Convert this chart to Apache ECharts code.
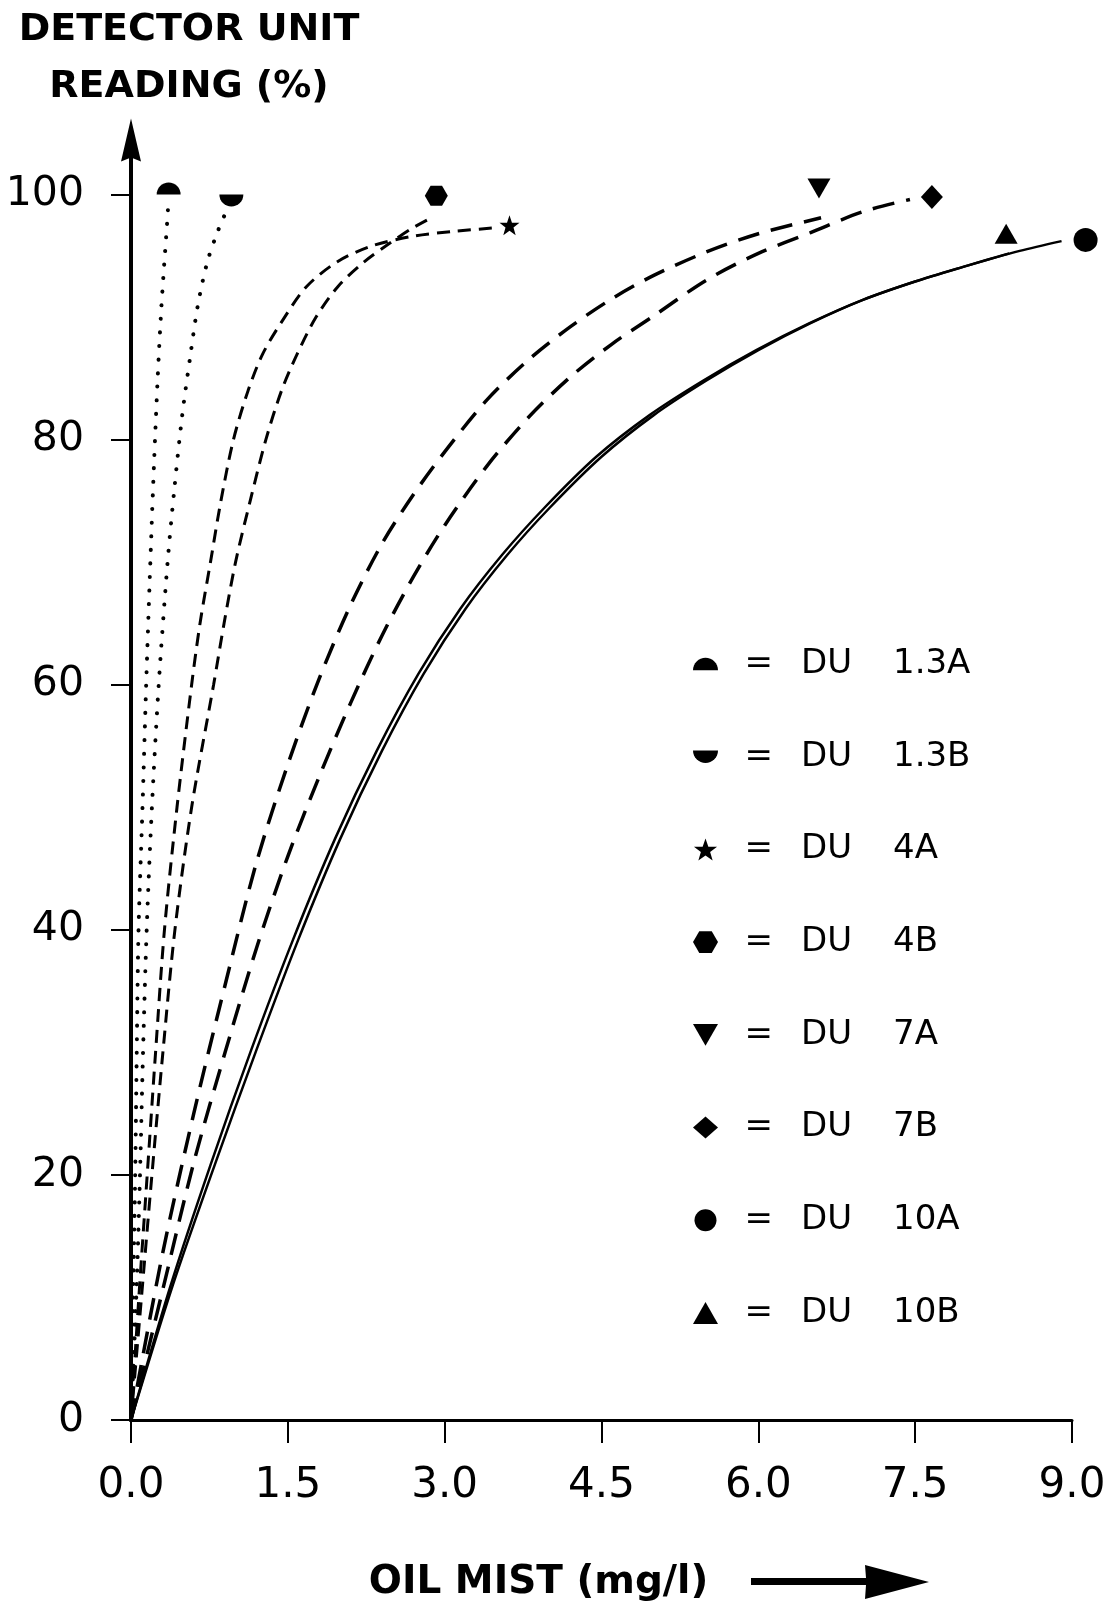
<!DOCTYPE html>
<html>
<head>
<meta charset="utf-8">
<script src="https://cdn.jsdelivr.net/npm/echarts@6/dist/echarts.min.js"></script>
<style>
html,body{margin:0;padding:0;background:#ffffff;}
#chart{width:1111px;height:1607px;}
</style>
</head>
<body>
<div id="chart"></div>
<script>
// ---------------- DATA ----------------
const seriesNames = ['DU 1.3A', 'DU 1.3B', 'DU 4A', 'DU 4B', 'DU 7A', 'DU 7B', 'DU 10A', 'DU 10B'];
const xTicks = [0, 1.5, 3, 4.5, 6, 7.5, 9];
const yTicks = [0, 20, 40, 60, 80, 100];

// curves [oil mist mg/l, reading %]
const curve13A = [[0,0],[0.02,10],[0.04,20],[0.055,30],[0.072,40],[0.11,50],[0.145,60],[0.185,70],[0.22,78],[0.255,85],[0.285,90],[0.315,94],[0.34,97],[0.355,99]];
const curve13B = [[0,0],[0.05,10],[0.086,20],[0.115,30],[0.15,40],[0.20,50],[0.265,60],[0.35,70],[0.415,76],[0.49,82],[0.57,87],[0.64,91],[0.73,94.5],[0.83,97],[0.93,99]];
const curve4A = [[0,0],[0.075,10],[0.155,20],[0.235,30],[0.32,40],[0.44,50],[0.58,60],[0.66,65],[0.76,70],[0.86,75],[0.98,80],[1.12,84],[1.26,87],[1.47,90],[1.68,92.5],[1.97,94.5],[2.3,95.8],[2.7,96.6],[3.1,97.0],[3.5,97.3]];
const curve4B = [[0,0],[0.10,10],[0.20,20],[0.305,30],[0.42,40],[0.58,50],[0.79,60],[0.89,65],[1.0,70],[1.14,75],[1.29,80],[1.44,84],[1.59,87],[1.77,90],[1.98,92.5],[2.23,94.5],[2.47,96],[2.68,97.2],[2.85,98]];
const curve7A = [[0,0],[0.3,13.5],[0.6,25],[0.9,35.5],[1.2,45.5],[1.5,53.5],[1.8,60.5],[2.1,66.5],[2.4,71.5],[2.7,75.5],[3.0,79],[3.4,83.2],[3.8,86.5],[4.2,89.2],[4.6,91.5],[5.0,93.4],[5.5,95.3],[6.0,96.8],[6.6,98.1]];
const curve7B = [[0,0],[0.3,10.5],[0.6,21],[0.9,30],[1.2,38.5],[1.5,46],[1.8,52.5],[2.1,58.5],[2.4,64],[2.7,68.8],[3.0,73],[3.4,77.8],[3.8,81.8],[4.2,85.1],[4.6,87.8],[5.0,90.1],[5.5,93.0],[6.0,95.2],[6.5,96.9],[7.0,98.6],[7.45,99.6]];
const curve10A = [[0,0],[0.4,11],[0.8,20.8],[1.2,30.2],[1.6,39.2],[2.0,47.4],[2.4,54.6],[2.8,60.9],[3.2,66.2],[3.6,70.6],[4.0,74.4],[4.5,78.6],[5.0,82.0],[5.5,84.8],[6.0,87.3],[6.5,89.5],[7.0,91.4],[7.5,92.9],[8.0,94.2],[8.5,95.4],[8.9,96.2]];
const curve10B = [[0,0],[0.38,11],[0.76,20.8],[1.15,30.2],[1.55,39.2],[1.95,47.4],[2.35,54.6],[2.75,60.9],[3.15,66.2],[3.55,70.6],[3.95,74.4],[4.45,78.6],[4.96,82.0],[5.47,84.8],[5.98,87.3],[6.49,89.5],[7.0,91.4],[7.5,92.9],[8.0,94.2],[8.4,95.2]];

// end markers
const marker13A = [0.36, 100];
const marker13B = [0.96, 100];
const marker4A = [3.62, 97.5];
const marker4B = [2.92, 99.9];
const marker7A = [6.58, 100.5];
const marker7B = [7.66, 99.8];
const marker10A = [9.13, 96.3];
const marker10B = [8.37, 96.8];

// ---------------- SYMBOL SHAPES ----------------
function halfDiscPath(up) {
  const pts = [];
  const n = 16;
  for (let i = 0; i <= n; i++) {
    const a = Math.PI * i / n;
    const x = 10 - 10 * Math.cos(a);
    const y = up ? 10 - 10 * Math.sin(a) : 10 * Math.sin(a);
    pts.push(x.toFixed(3) + ',' + y.toFixed(3));
  }
  return 'path://M' + pts.join(' L') + ' Z';
}
function starPath() {
  const pts = [];
  for (let i = 0; i < 10; i++) {
    const r = i % 2 === 0 ? 10 : 4;
    const a = -Math.PI / 2 + i * Math.PI / 5;
    pts.push((10 + r * Math.cos(a)).toFixed(3) + ',' + (10 + r * Math.sin(a)).toFixed(3));
  }
  return 'path://M' + pts.join(' L') + ' Z';
}
const SYM_HALF_UP = halfDiscPath(true);
const SYM_HALF_DOWN = halfDiscPath(false);
const SYM_STAR = starPath();
const SYM_HEX = 'path://M0,8.66 L5,0 L15,0 L20,8.66 L15,17.32 L5,17.32 Z';
const SYM_TRI_DOWN = 'path://M0,0 L20,0 L10,17.32 Z';
const ARROW_HEAD = 'path://M10,0 L20,43 L10,39 L0,43 Z';

const curves = [curve13A, curve13B, curve4A, curve4B, curve7A, curve7B, curve10A, curve10B];
const markers = [marker13A, marker13B, marker4A, marker4B, marker7A, marker7B, marker10A, marker10B];
const symbols = [SYM_HALF_UP, SYM_HALF_DOWN, SYM_STAR, SYM_HEX, SYM_TRI_DOWN, 'diamond', 'circle', 'triangle'];
const symbolSizes = [[24,12],[24,12],20,[23,20],[23,20],[22,24],24,[23,20]];
const symbolOffsets = [[0,-6],[0,6],[0,0],[0,0],[0,0],[0,0],[0,0],[0,0]];
const lineTypes = [[0.1,13.5],[0.1,13.5],[13,8],[13,8],[22,12],[22,12],'solid','solid'];
const lineWidths = [4,4,3,3,3.5,3.5,2.5,2.5];

const series = [];
curves.forEach((c, i) => {
  series.push({
    type: 'line', name: seriesNames[i] + ' curve', data: c,
    smooth: 0.3, showSymbol: false, symbol: 'none', clip: false, silent: true,
    lineStyle: {color: '#000', width: lineWidths[i], type: lineTypes[i], cap: i < 2 ? 'round' : 'butt', opacity: 1},
    z: 2
  });
});
markers.forEach((m, i) => {
  series.push({
    type: 'scatter', name: seriesNames[i], data: [m],
    symbol: symbols[i], symbolSize: symbolSizes[i], symbolOffset: symbolOffsets[i],
    itemStyle: {color: '#000', opacity: 1}, clip: false, z: 5
  });
});

const chart = echarts.init(document.getElementById('chart'), null, {renderer: 'canvas'});
chart.setOption({
  backgroundColor: '#ffffff',
  animation: false,
  title: {
    text: 'DETECTOR UNIT\nREADING (%)',
    left: 189, top: 2, padding: 0, textAlign: 'center',
    textStyle: {fontFamily: 'DejaVu Sans', fontWeight: 'bold', fontSize: 38, lineHeight: 57, color: '#000'}
  },
  grid: {left: 131, right: 39, top: 140, bottom: 184.4, containLabel: false},
  xAxis: {
    type: 'value', min: 0, max: 9, interval: 1.5,
    axisLine: {show: true, lineStyle: {color: '#000', width: 3}},
    axisTick: {show: true, length: 23, lineStyle: {color: '#000', width: 2}},
    axisLabel: {margin: 45, fontFamily: 'DejaVu Sans', fontSize: 42, color: '#000', formatter: v => v.toFixed(1)},
    splitLine: {show: false},
    name: 'OIL MIST (mg/l)', nameLocation: 'middle', nameGap: 143,
    nameTextStyle: {fontFamily: 'DejaVu Sans', fontWeight: 'bold', fontSize: 39, color: '#000', padding: [0, 126, 0, 0]}
  },
  yAxis: {
    type: 'value', min: 0, max: 104.45,
    axisLine: {show: true, symbol: ['none', ARROW_HEAD], symbolSize: [20, 43], lineStyle: {color: '#000', width: 4}},
    axisTick: {show: true, length: 20, customValues: yTicks, lineStyle: {color: '#000', width: 2}},
    axisLabel: {customValues: yTicks, margin: 47, fontFamily: 'DejaVu Sans', fontSize: 41, color: '#000'},
    splitLine: {show: false}
  },
  legend: {
    orient: 'vertical', left: 693, top: 644, padding: 0,
    itemWidth: 25, itemHeight: 22, itemGap: 52.7, selectedMode: false,
    itemStyle: {opacity: 1, color: '#000'},
    data: seriesNames.map((n, i) => ({name: n, icon: symbols[i]})),
    formatter: n => '{eq|  =}{du|DU}{id|' + n.split(' ')[1] + '}',
    textStyle: {
      fontFamily: 'DejaVu Sans', fontSize: 34, color: '#000', lineHeight: 40,
      rich: {
        eq: {width: 78, fontFamily: 'DejaVu Sans', fontSize: 34, color: '#000', lineHeight: 40},
        du: {width: 92, fontFamily: 'DejaVu Sans', fontSize: 34, color: '#000', lineHeight: 40},
        id: {fontFamily: 'DejaVu Sans', fontSize: 34, color: '#000', lineHeight: 40}
      }
    }
  },
  graphic: [{
    type: 'polygon', silent: true,
    shape: {points: [[751,1578],[866,1578],[865,1565],[929,1582],[865,1599],[866,1585],[751,1585]]},
    style: {fill: '#000'}
  }],
  series: series
});
</script>
</body>
</html>
